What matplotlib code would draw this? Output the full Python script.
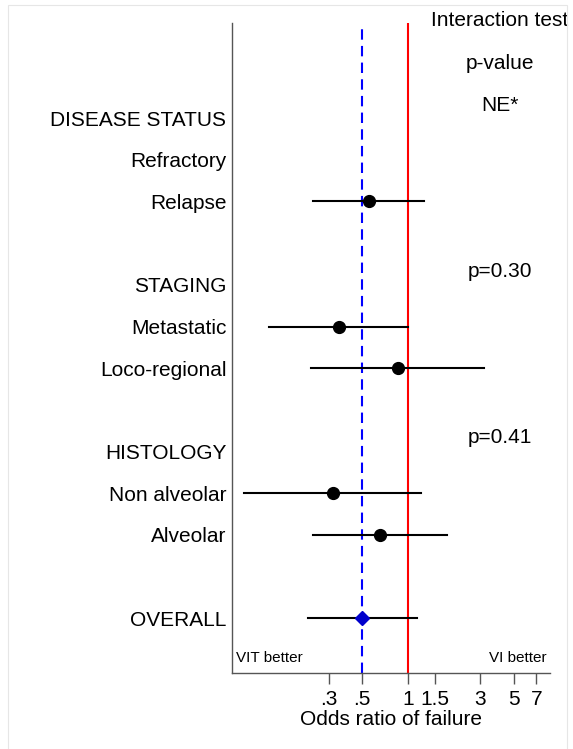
import numpy as np
import matplotlib.pyplot as plt
from matplotlib.patches import Rectangle
from matplotlib.ticker import NullLocator

plt.rcParams['font.family'] = ['Liberation Sans', 'DejaVu Sans']

# rows (top to bottom) and their labels
row_labels = ["DISEASE STATUS", "Refractory", "Relapse",
              "STAGING", "Metastatic", "Loco-regional",
              "HISTOLOGY", "Non alveolar", "Alveolar",
              "OVERALL"]
row_pos = [0, 1, 2, 4, 5, 6, 8, 9, 10, 12]

# estimates (odds ratio, lower CI, upper CI)
est_rows = [2, 5, 6, 9, 10]
est_or = [0.554, 0.352, 0.86, 0.32, 0.654]
est_lo = [0.237, 0.122, 0.23, 0.083, 0.237]
est_hi = [1.27, 1.0, 3.16, 1.22, 1.81]

overall_row = 12
overall_or = 0.5
overall_lo = 0.22
overall_hi = 1.15

# interaction test p-values
pval_text = ["NE*", "p=0.30", "p=0.41"]
pval_rows = [-0.31, 3.67, 7.67]

xticks = [0.3, 0.5, 1, 1.5, 3, 5, 7]
xtick_labels = [".3", ".5", "1", "1.5", "3", "5", "7"]


def main():
    fig = plt.figure(figsize=(5.73, 7.49), dpi=100)
    # light outer frame like the stata graph region
    frame = Rectangle((8/573, -0.05), 559/573, 1.05 - 5/749,
                      transform=fig.transFigure, fill=False,
                      edgecolor='#e6e6e6', linewidth=0.8)
    fig.patches.append(frame)
    # clip area for text running past the frame
    clip = Rectangle((8/573, 0), 559/573, 1 - 5/749,
                     transform=fig.transFigure, visible=False)

    ax = fig.add_axes([232/573, 1 - 673/749, 318/573, 650/749])
    ax.set_xscale('log')
    ax.set_xlim(0.0695, 8.6)
    ax.set_ylim(13.31, -2.28)

    ax.axvline(1, color='#ff0000', linewidth=1.5, zorder=1)
    ax.axvline(overall_or, color='#0000ff', linewidth=1.5,
               linestyle=(0, (5, 3)), zorder=1)

    for r, o, lo, hi in zip(est_rows, est_or, est_lo, est_hi):
        ax.plot([lo, hi], [r, r], color='black', linewidth=1.5, zorder=2)
        ax.plot(o, r, 'o', color='black', markersize=8.5, zorder=3)

    ax.plot([overall_lo, overall_hi], [overall_row, overall_row],
            color='black', linewidth=1.5, zorder=2)
    ax.plot(overall_or, overall_row, 'D', color='#0000cc',
            markersize=7.5, zorder=3)

    # header and p-values
    tx = (500 - 232) / 318
    trans = ax.get_yaxis_transform()
    hdr = ax.text(tx, -2.33, "Interaction test", transform=trans,
                  ha='center', va='center', fontsize=15)
    hdr.set_clip_path(clip)
    ax.text(tx, -1.32, "p-value", transform=trans,
            ha='center', va='center', fontsize=15, clip_on=False)
    for t, r in zip(pval_text, pval_rows):
        ax.text(tx, r, t, transform=trans, ha='center', va='center',
                fontsize=15)

    ax.text(4/318, 12.95, "VIT better", transform=trans, ha='left',
            va='center', fontsize=11)
    ax.text(315/318, 12.95, "VI better", transform=trans, ha='right',
            va='center', fontsize=11)

    ax.set_yticks(row_pos)
    ax.set_yticklabels(row_labels, fontsize=15)
    ax.tick_params(axis='y', length=0, pad=4)

    ax.set_xticks(xticks)
    ax.set_xticklabels(xtick_labels, fontsize=15)
    ax.xaxis.set_minor_locator(NullLocator())
    ax.tick_params(axis='x', length=8, width=1, color='#555555', pad=4)
    ax.set_xlabel("Odds ratio of failure", fontsize=15, labelpad=1)

    for s in ['top', 'right']:
        ax.spines[s].set_visible(False)
    for s in ['left', 'bottom']:
        ax.spines[s].set_color('#555555')
        ax.spines[s].set_linewidth(1)

    fig.savefig("out.png", dpi=100)


if __name__ == "__main__":
    main()
